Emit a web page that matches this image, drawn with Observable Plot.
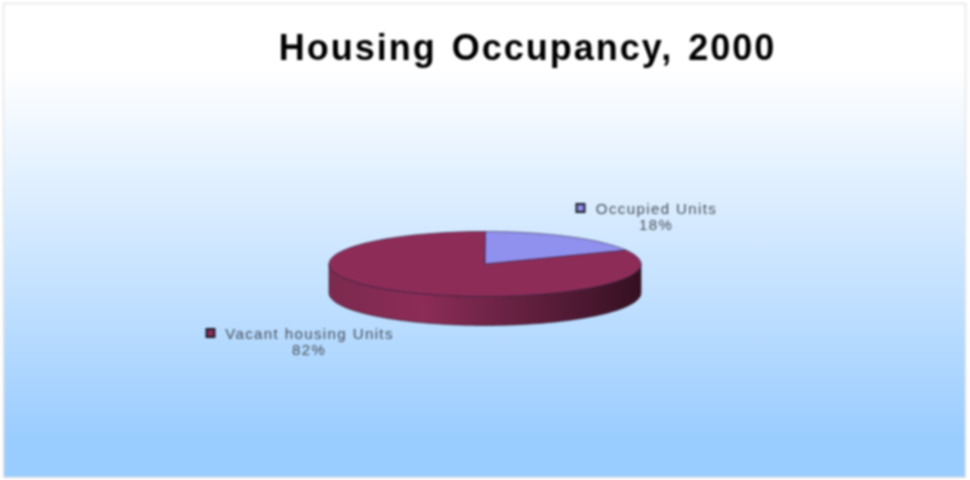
<!DOCTYPE html>
<html><head><meta charset="utf-8">
<script src="https://cdn.jsdelivr.net/npm/d3@7"></script>
<script src="https://cdn.jsdelivr.net/npm/@observablehq/plot@0.6"></script>
<style>
html,body{margin:0;padding:0;background:#fff}
svg{display:block;filter:blur(.85px)}
.ttl text{letter-spacing:2px;word-spacing:3px}
.lbl text{letter-spacing:1.4px}
</style></head><body>
<script>
const categories = ["Occupied Units", "Vacant housing Units"];
const shares = [18, 82];
const sliceColors = ["#9090ee", "#8e2c58"];
const chartTitle = "Housing Occupancy, 2000";

const depth = 0.89;                 // rim height in y-scale units
const turn = p => p / 100 * 2 * Math.PI;
const pt = (p, drop = 0) => ({x: Math.sin(turn(p)), y: Math.cos(turn(p)) - drop});
const arc = (a, b) => d3.range(0, 121).map(i => a + (b - a) * i / 120);

let run = 0;
const slices = categories.flatMap((c, k) => {
  const start = run; run += shares[k];
  return [{x: 0, y: 0, c}, ...arc(start, run).map(p => ({...pt(p), c}))];
});
const front = [...arc(25, 75).map(p => pt(p)), ...arc(75, 25).map(p => pt(p, depth))];

const legendRows = categories.map((c, k) => ({c, pct: shares[k] + "%"}));
const label = (k, dx, dy, dxDot) => [
  Plot.dot([legendRows[k]], {frameAnchor: "top-left", dx: dxDot, dy: dy + 4.5, symbol: "square", r: 4.5, fill: "c", stroke: "#1c1c28", strokeWidth: 2}),
  Plot.text([legendRows[k]], {frameAnchor: "top-left", dx, dy, text: "c", textAnchor: "middle", fontSize: 15, fill: "#484e58", fontFamily: "Liberation Sans", className: "lbl"}),
  Plot.text([legendRows[k]], {frameAnchor: "top-left", dx: dx - 0.5, dy: dy + 16, text: "pct", textAnchor: "middle", fontSize: 15, fill: "#484e58", fontFamily: "Liberation Sans", className: "lbl"})
];

const defs = () => {
  const ns = "http://www.w3.org/2000/svg";
  const d = document.createElementNS(ns, "defs");
  d.innerHTML = `
  <linearGradient id="bg" x1="0" y1="0" x2="0" y2="1">
    <stop offset="0.14" stop-color="#ffffff"/><stop offset="0.93" stop-color="#99ccff"/>
  </linearGradient>
  <linearGradient id="rim" x1="0" y1="0" x2="1" y2="0">
    <stop offset="0" stop-color="#7c2a4f"/><stop offset="0.3" stop-color="#8c2c57"/>
    <stop offset="0.55" stop-color="#6c2345"/><stop offset="1" stop-color="#351021"/>
  </linearGradient>`;
  return d;
};

const chart = Plot.plot({
  width: 970, height: 480,
  marginLeft: 3, marginRight: 5, marginTop: 3, marginBottom: 3,
  style: {background: "#fff"},
  x: {domain: [-1, 1], range: [328.5, 640.5], axis: null},
  y: {domain: [-1, 1], range: [296, 231], axis: null},
  color: {domain: categories, range: sliceColors},
  marks: [
    defs,
    Plot.frame({fill: "url(#bg)", stroke: "#e6e6e6", strokeWidth: 1.5}),
    Plot.line(front, {x: "x", y: "y", fill: "url(#rim)", stroke: "#2a1020", strokeWidth: 0.9, strokeOpacity: 0.7, curve: "linear-closed"}),
    Plot.line(slices, {x: "x", y: "y", z: "c", fill: "c", stroke: "#2a1a3a", strokeWidth: 0.9, strokeOpacity: 0.65, curve: "linear-closed"}),
    Plot.text([chartTitle], {frameAnchor: "top-left", dx: 524, dy: 31, text: d => d, textAnchor: "middle", fontSize: 36, fontWeight: "bold", fill: "#000", fontFamily: "Liberation Sans", className: "ttl"}),
    ...label(0, 653, 200, 577),
    ...label(1, 306, 325, 207)
  ]
});
document.body.append(chart);
</script></body></html>
